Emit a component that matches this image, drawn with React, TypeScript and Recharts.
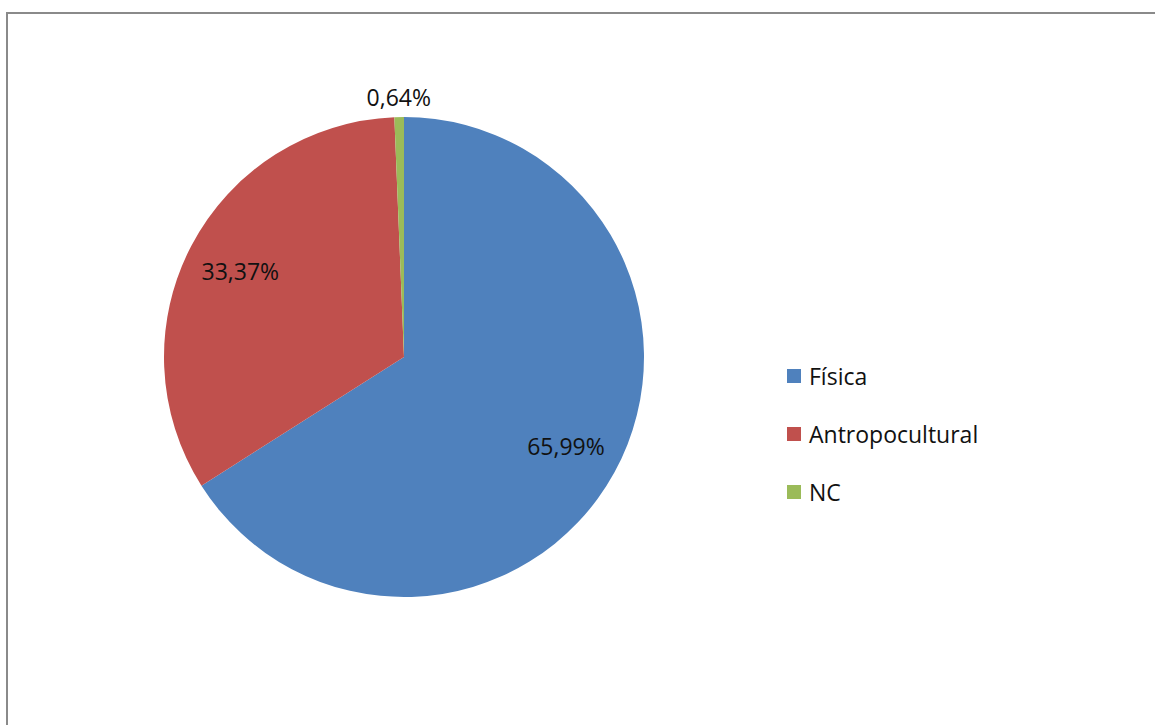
import { Cell, Legend, Pie, PieChart } from "recharts";

const categories = ["Física", "Antropocultural", "NC"];
const shares = [65.99, 33.37, 0.64];
const colors = ["#4F81BD", "#C0504D", "#9BBB59"];

const data = categories.map((name, i) => ({ name, value: shares[i] }));

const RAD = Math.PI / 180;
const font = "Open Sans, Noto Sans, sans-serif";

function renderLabel(props: any) {
  const { cx, cy, midAngle, outerRadius, index } = props;
  // small slice label sits outside, like Excel's best fit
  const r = index === 2 ? outerRadius + 20 : outerRadius * 0.77;
  const x = cx + r * Math.cos(-midAngle * RAD);
  const y = cy + r * Math.sin(-midAngle * RAD);
  return (
    <text x={x} y={y} textAnchor="middle" dominantBaseline="central" fontSize={23} fill="#111" fontFamily={font}>
      {shares[index].toFixed(2).replace(".", ",")}%
    </text>
  );
}

function LegendBox() {
  return (
    <div style={{ fontFamily: font, fontSize: 23, color: "#111" }}>
      {data.map((d, i) => (
        <div key={d.name} style={{ display: "flex", alignItems: "center", height: 58 }}>
          <span style={{ width: 14, height: 14, background: colors[i], marginRight: 8, display: "inline-block" }} />
          <span>{d.name}</span>
        </div>
      ))}
    </div>
  );
}

export default function App() {
  return (
    <div style={{ position: "fixed", left: 0, top: 0, width: 1155, height: 725, overflow: "hidden", background: "#fff" }}>
      <div style={{ position: "absolute", left: 6, top: 12, width: 1160, height: 730, border: "2px solid #8a8a8a", boxSizing: "border-box" }} />
      <div style={{ position: "absolute", left: 0, top: 0 }}>
        <PieChart width={1155} height={725}>
          <Pie
            data={data}
            dataKey="value"
            nameKey="name"
            cx={399}
            cy={352}
            outerRadius={240}
            startAngle={90}
            endAngle={-270}
            stroke="none"
            label={renderLabel}
            labelLine={false}
            isAnimationActive={false}
          >
            {data.map((d, i) => (
              <Cell key={d.name} fill={colors[i]} />
            ))}
          </Pie>
          <Legend
            content={<LegendBox />}
            layout="vertical"
            wrapperStyle={{ position: "absolute", left: 787, top: 347, width: 250 }}
          />
        </PieChart>
      </div>
    </div>
  );
}
